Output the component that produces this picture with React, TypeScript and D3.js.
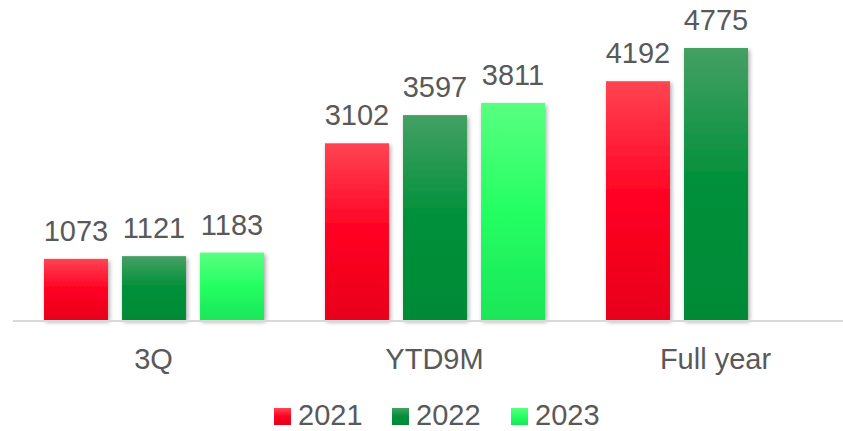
import * as d3 from "d3";

const categories = ["3Q", "YTD9M", "Full year"];
const seriesNames = ["2021", "2022", "2023"];
const values2021 = [1073, 3102, 4192];
const values2022 = [1121, 3597, 4775];
const values2023: (number | null)[] = [1183, 3811, null];

const W = 843;
const H = 431;
const baseY = 320;
const font = "'Liberation Sans', Arial, sans-serif";
const textColor = "#595959";

const gradients = [
  { id: "g2021", stops: ["#ff4452", "#ff0022", "#e8001a"] },
  { id: "g2022", stops: ["#44a064", "#00903a", "#008a36"] },
  { id: "g2023", stops: ["#58ff80", "#24ff62", "#1ae658"] },
];

export default function App() {
  const allValues = [values2021, values2022, values2023];

  const x = d3.scaleBand<string>().domain(categories).range([13, 856]);
  const xInner = d3
    .scaleBand<string>()
    .domain(seriesNames)
    .range([31, 251])
    .paddingInner(0.18);
  const y = d3.scaleLinear().domain([0, 5000]).range([baseY, baseY - (5000 * 272) / 4775]);

  const legendX = [274, 392, 511];
  const legendBase = 425;

  return (
    <svg
      width={W}
      height={H}
      style={{ position: "absolute", left: 0, top: 0 }}
    >
      <defs>
        {gradients.map((g) => (
          <linearGradient key={g.id} id={g.id} x1="0" y1="0" x2="0" y2="1">
            <stop offset="0%" stopColor={g.stops[0]} />
            <stop offset="50%" stopColor={g.stops[1]} />
            <stop offset="100%" stopColor={g.stops[2]} />
          </linearGradient>
        ))}
        <filter id="shadow" x="-20%" y="-20%" width="140%" height="140%">
          <feDropShadow dx="1.5" dy="2" stdDeviation="2" floodColor="#000" floodOpacity="0.35" />
        </filter>
      </defs>
      <rect x={0} y={0} width={W} height={H} fill="#fff" />

      {allValues.map((vals, si) =>
        vals.map((v, ci) => {
          if (v == null) return null;
          const bx = (x(categories[ci]) ?? 0) + (xInner(seriesNames[si]) ?? 0);
          const top = y(v);
          return (
            <g key={`${si}-${ci}`}>
              <rect
                x={bx}
                y={top}
                width={xInner.bandwidth()}
                height={baseY - top}
                fill={`url(#${gradients[si].id})`}
                filter="url(#shadow)"
              />
              <text
                x={bx + xInner.bandwidth() / 2}
                y={top - 18}
                textAnchor="middle"
                fontFamily={font}
                fontSize={29}
                fill={textColor}
              >
                {v}
              </text>
            </g>
          );
        })
      )}

      <line x1={13} x2={W} y1={baseY + 1} y2={baseY + 1} stroke="#d9d9d9" strokeWidth={2} />

      {categories.map((c) => (
        <text
          key={c}
          x={(x(c) ?? 0) + x.bandwidth() / 2}
          y={369}
          textAnchor="middle"
          fontFamily={font}
          fontSize={29}
          fill={textColor}
        >
          {c}
        </text>
      ))}

      {seriesNames.map((s, i) => (
        <g key={s}>
          <rect x={legendX[i]} y={legendBase - 17} width={17} height={17} fill={`url(#${gradients[i].id})`} />
          <text
            x={legendX[i] + 24}
            y={legendBase}
            fontFamily={font}
            fontSize={29}
            fill={textColor}
          >
            {s}
          </text>
        </g>
      ))}
    </svg>
  );
}
